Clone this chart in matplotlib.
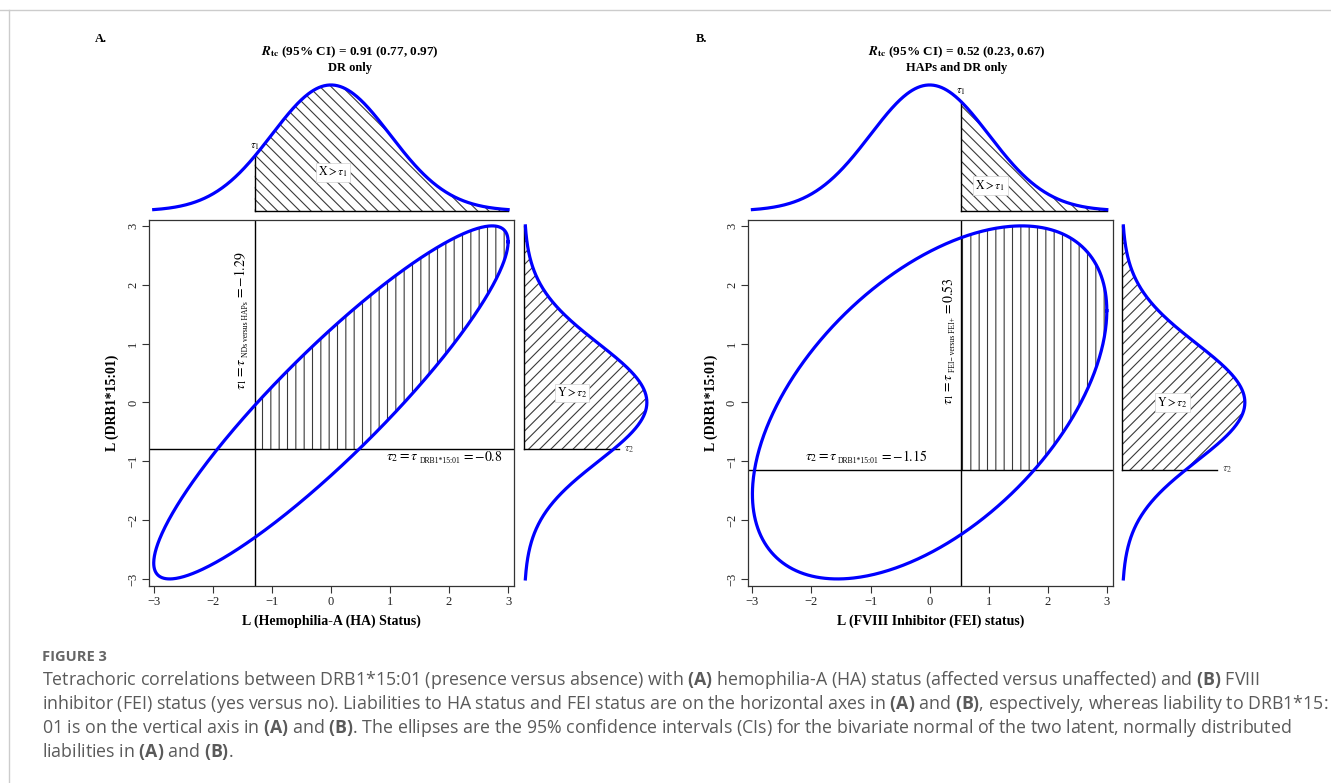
import numpy as np
import matplotlib.pyplot as plt
from matplotlib.lines import Line2D

plt.rcParams['font.family'] = ['Liberation Serif', 'DejaVu Serif']
plt.rcParams['mathtext.fontset'] = 'stix'
plt.rcParams['mathtext.rm'] = 'Open Sans'
plt.rcParams['mathtext.bf'] = 'Open Sans:bold'
plt.rcParams['hatch.linewidth'] = 0.8

# data for the two panels
panel_tags = ['A.', 'B.']
rho = [0.91, 0.52]
rho_ci = [(0.77, 0.97), (0.23, 0.67)]
subsets = ['DR only', 'HAPs and DR only']
tau1 = [-1.29, 0.53]
tau2 = [-0.8, -1.15]
tau1_sub = ['NDs versus HAPs', 'FEI\u2212 versus FEI+']
tau2_sub = ['DRB1*15:01', 'DRB1*15:01']
xlabels = ['L (Hemophilia-A (HA) Status)', 'L (FVIII Inhibitor (FEI) status)']
ylabel = 'L (DRB1*15:01)'
ticks = [-3, -2, -1, 0, 1, 2, 3]
bound = 3.0

caption_head = 'FIGURE 3'
caption_lines = [
    r'Tetrachoric correlations between DRB1*15:01 (presence versus absence) with $\mathbf{(A)}$ hemophilia-A (HA) status (affected versus unaffected) and $\mathbf{(B)}$ FVIII',
    r'inhibitor (FEI) status (yes versus no). Liabilities to HA status and FEI status are on the horizontal axes in $\mathbf{(A)}$ and $\mathbf{(B)}$, espectively, whereas liability to DRB1*15:',
    r'01 is on the vertical axis in $\mathbf{(A)}$ and $\mathbf{(B)}$. The ellipses are the 95% confidence intervals (CIs) for the bivariate normal of the two latent, normally distributed',
    r'liabilities in $\mathbf{(A)}$ and $\mathbf{(B)}$.',
]

# label placement (data coords) and layout in pixels
W, H = 1331, 783
main_left = [149, 747.7]
right_left = [524, 1122]
title_x = [350, 957]
tag_x = [101, 702]
vlab_start = [(-1.45, 0.215), (0.39, -0.04)]
hlab_start = [(0.94, -0.99), (-2.11, -0.99)]
xlab_pos = [(0.04, 0.123), (1.03, 0.08)]
ylab_pos = [(0.156, 0.16), (0.163, 0.0)]

BLUE = '#0000ff'
HATCH = '#3a3a3a'


def pdf(v):
    return np.exp(-v ** 2 / 2) / np.sqrt(2 * np.pi)


def add_px_axes(fig, l, t, r, b):
    return fig.add_axes([l / W, 1 - b / H, (r - l) / W, (b - t) / H])


def tau_label(ax, x, y, head, sub, tail, vertical=False):
    big, small = 10, 5.5
    if not vertical:
        a = ax.text(x, y, head, fontsize=big, ha='left', va='baseline')
        b = ax.annotate(sub, xy=(1, y), xycoords=(a, 'data'), xytext=(0.4, -2),
                        textcoords='offset points', fontsize=small,
                        ha='left', va='baseline')
        ax.annotate(tail, xy=(1, y), xycoords=(b, 'data'), xytext=(0.3, 0),
                    textcoords='offset points', fontsize=big, ha='left', va='baseline')
    else:
        kw = dict(rotation=90, rotation_mode='anchor', ha='left', va='baseline')
        a = ax.text(x, y, head, fontsize=big, **kw)
        b = ax.annotate(sub, xy=(x, 1), xycoords=('data', a), xytext=(2, 0.4),
                        textcoords='offset points', fontsize=small, **kw)
        ax.annotate(tail, xy=(x, 1), xycoords=('data', b), xytext=(0, 0.3),
                    textcoords='offset points', fontsize=big, **kw)


fig = plt.figure(figsize=(W / 100, H / 100), dpi=100)
XLIM = (-3.08, 3.10)
YLIM = (-3.12, 3.10)

for i in range(2):
    r, t1, t2 = rho[i], tau1[i], tau2[i]
    L = main_left[i]

    # ---- main ellipse panel
    ax = add_px_axes(fig, L, 220, L + 365, 586)
    ax.set_xlim(*XLIM)
    ax.set_ylim(*YLIM)
    tt = np.linspace(0, 2 * np.pi, 600)
    ex = bound * np.cos(tt)
    ey = bound * np.cos(tt - np.arccos(r))
    xs = np.linspace(t1, bound, 500)
    half = np.sqrt(np.clip((1 - r ** 2) * (bound ** 2 - xs ** 2), 0, None))
    up = r * xs + half
    lo = np.maximum(r * xs - half, t2)
    ax.fill_between(xs, lo, up, where=up > lo, interpolate=True,
                    facecolor='none', edgecolor=HATCH, hatch='||', linewidth=0)
    ax.axvline(t1, color='k', lw=1)
    ax.axhline(t2, color='k', lw=1)
    ax.plot(ex, ey, color=BLUE, lw=2.3)
    tau_label(ax, *vlab_start[i], r'$\tau_1 = \tau$', tau1_sub[i],
              r'$= %s$' % f'{t1:g}', vertical=True)
    tau_label(ax, *hlab_start[i], r'$\tau_2 = \tau$', tau2_sub[i],
              r'$= %s$' % f'{t2:g}')
    ax.set_xticks(ticks, labels=[f'{v}'.replace('-', '\u2212') for v in ticks])
    ax.set_yticks(ticks, labels=[f'{v}'.replace('-', '\u2212') for v in ticks],
                  rotation=90, va='center')
    ax.tick_params(direction='out', length=5, width=0.8, labelsize=9, pad=2,
                   color='#333333', labelcolor='#222222')
    for sp in ax.spines.values():
        sp.set_color('#333333')
        sp.set_linewidth(0.9)
    ax.set_xlabel(xlabels[i], fontweight='bold', fontsize=10)
    ax.xaxis.set_label_coords(0.5, -0.077)
    ax.set_ylabel(ylabel, fontweight='bold', fontsize=10)
    ax.yaxis.set_label_coords(-0.082, 0.5)

    # ---- top marginal density
    axt = add_px_axes(fig, L, 78, L + 365, 211)
    axt.set_xlim(*XLIM)
    axt.set_ylim(0, 0.421)
    axt.axis('off')
    xg = np.linspace(-bound, bound, 400)
    xh = np.linspace(t1, bound, 300)
    axt.fill_between(xh, 0, pdf(xh), facecolor='none', edgecolor=HATCH,
                     hatch='\\\\\\', linewidth=0)
    axt.plot([t1, t1], [0, pdf(t1)], color='k', lw=1, clip_on=False)
    axt.plot([t1, bound], [0, 0], color='k', lw=1, clip_on=False)
    axt.plot(xg, pdf(xg), color=BLUE, lw=2.3, clip_on=False)
    axt.annotate(r'$\tau_1$', (t1, pdf(t1)), xytext=(0, 3), textcoords='offset points',
                 ha='center', va='bottom', fontsize=8)
    axt.text(*xlab_pos[i], r'$\mathrm{X} > \tau_1$', ha='center', va='center', fontsize=8.5,
             bbox=dict(facecolor='white', edgecolor='#d0d0d0', linewidth=0.5, pad=1.5))

    # ---- right marginal density
    R = right_left[i]
    axr = add_px_axes(fig, R, 220, R + 136, 586)
    axr.set_ylim(*YLIM)
    axr.set_xlim(0, 0.4416)
    axr.axis('off')
    yh = np.linspace(t2, bound, 300)
    axr.fill_betweenx(yh, 0, pdf(yh), facecolor='none', edgecolor=HATCH,
                      hatch='///', linewidth=0)
    axr.plot([0, 0], [t2, bound], color='k', lw=1, clip_on=False)
    axr.plot([0, 0.31], [t2, t2], color='k', lw=1, clip_on=False)
    axr.plot(pdf(xg), xg, color=BLUE, lw=2.3, clip_on=False)
    axr.annotate(r'$\tau_2$', (0.31, t2), xytext=(3, 0), textcoords='offset points',
                 ha='left', va='center', fontsize=8, color='#444444')
    axr.text(*ylab_pos[i], r'$\mathrm{Y} > \tau_2$', ha='center', va='center', fontsize=8.5,
             bbox=dict(facecolor='white', edgecolor='#d0d0d0', linewidth=0.5, pad=1.5))

    # ---- titles
    lo_ci, hi_ci = rho_ci[i]
    fig.text(title_x[i] / W, 1 - 52 / H,
             r'$\mathbfit{R}_{\mathbf{tc}}$' + f' (95% CI) = {r:.2f} ({lo_ci:.2f}, {hi_ci:.2f})',
             ha='center', va='center', fontweight='bold', fontsize=9.5)
    fig.text(title_x[i] / W, 1 - 68 / H, subsets[i], ha='center', va='center',
             fontweight='bold', fontsize=9)
    fig.text(tag_x[i] / W, 1 - 39 / H, panel_tags[i], ha='center', va='center',
             fontweight='bold', fontsize=9)

# ---- page frame and caption
fig.add_artist(Line2D([0, 1], [1 - 10 / H] * 2, color='#cccccc', lw=1))
fig.add_artist(Line2D([9 / W] * 2, [0, 1 - 10 / H], color='#cccccc', lw=1))

fig.text(42 / W, 1 - 657 / H, caption_head, family='Open Sans', fontweight='bold',
         fontsize=10.5, color='#666666', va='center')
renderer = fig.canvas.get_renderer()
cap_texts = []
for k, line in enumerate(caption_lines):
    cap_texts.append(fig.text(42 / W, 1 - (680 + 24 * k) / H, line, family='Open Sans',
                              fontsize=12, color='#5a5a5a', va='center',
                              math_fontfamily='custom'))
w0 = cap_texts[0].get_window_extent(renderer).width
fs = 12 * 1215 / w0
for ct in cap_texts:
    ct.set_fontsize(fs)

fig.savefig('out.png', dpi=100)
